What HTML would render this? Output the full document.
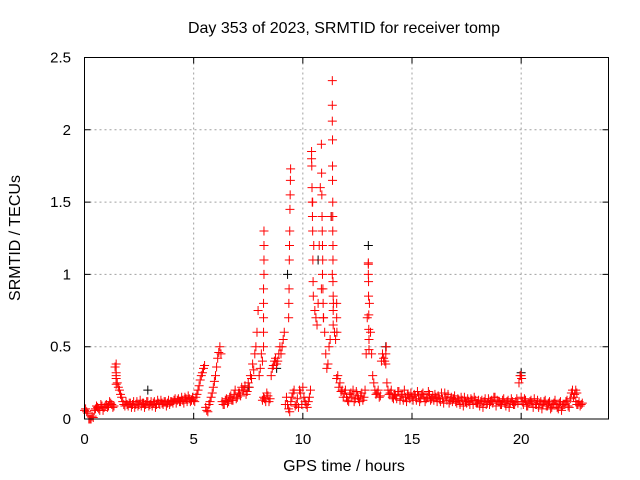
<!DOCTYPE html>
<html><head><meta charset="utf-8"><style>
body{margin:0;background:#fff}
svg{display:block;font-family:"Liberation Sans",sans-serif}
</style></head><body>
<svg width="640" height="480" viewBox="0 0 640 480">
<rect width="640" height="480" fill="#fff"/>
<g id="grid"></g>
<g id="series-black"></g>
<g id="series-red"></g>
<rect x="84.5" y="57.5" width="524" height="361.5" fill="none" stroke="#000"/>
<g id="ticks"></g>
<text x="344" y="33" text-anchor="middle" font-size="16">Day 353 of 2023, SRMTID for receiver tomp</text>
<text x="344" y="471" text-anchor="middle" font-size="16">GPS time / hours</text>
<text transform="translate(20,238) rotate(-90)" text-anchor="middle" font-size="16">SRMTID / TECUs</text>
</svg>
<script>
const xTicks=[0,5,10,15,20];
const yTicks=[0,0.5,1,1.5,2,2.5];
const yTickLabels=["0","0.5","1","1.5","2","2.5"];
const baseStart=0, baseStep=0.1, base2Start=0.05;
const baseValues=[.06,.05,0,0,.01,.07,.08,.06,.09,.08,
.1,.09,.11,.08,.36,.25,.2,.15,.1,.12,
.09,.11,.1,.08,.12,.1,.09,.11,.1,.12,
.1,.09,.12,.1,.11,.13,.1,.12,.11,.1,
.12,.13,.11,.14,.12,.13,.15,.12,.14,.13,
.13,.15,.2,.27,.32,.37,.06,.1,.15,.22,
.3,.42,.5,.12,.1,.14,.12,.16,.13,.2,
.15,.18,.22,.2,.17,.25,.3,.38,.45,.6,
.3,.45,.15,.12,.16,.14,.35,.4,.38,.45,
.45,.55,.1,.1,.05,.15,.2,.1,.08,.18,
.22,.12,.08,.15,1.8,1.2,.7,.8,1.6,1.0,
.6,.35,.5,1.4,.8,.55,.3,.25,.2,.18,
.15,.12,.18,.2,.14,.16,.12,.18,.15,.45,
1.0,.6,.3,.2,.18,.15,.4,.42,.38,.2,
.18,.15,.17,.14,.19,.16,.13,.15,.17,.14,
.15,.17,.13,.16,.14,.18,.12,.15,.17,.14,
.13,.15,.16,.12,.14,.18,.13,.11,.15,.14,
.12,.14,.1,.13,.15,.11,.12,.14,.1,.13,
.11,.09,.13,.12,.1,.14,.12,.11,.15,.13,
.12,.1,.14,.09,.13,.11,.12,.1,.14,.25,
.15,.1,.13,.09,.12,.11,.14,.1,.08,.12,
.1,.13,.09,.12,.08,.11,.1,.07,.12,.09,
.1,.13,.08,.18,.15,.12,.1,.09,.11];
const baseValues2=[.07,.04,0,.02,.06,.09,.07,.1,.06,.09,
.08,.12,.1,.09,.3,.22,.17,.12,.09,.1,
.11,.08,.12,.1,.09,.13,.11,.08,.12,.09,
.12,.11,.08,.13,.1,.11,.12,.09,.13,.12,
.11,.14,.13,.12,.15,.11,.14,.16,.12,.15,
.12,.17,.23,.3,.35,.08,.05,.12,.18,.26,
.36,.46,.45,.1,.13,.11,.15,.13,.17,.14,
.18,.16,.2,.23,.19,.22,.28,.34,.5,.75,
.35,.13,.14,.18,.12,.3,.37,.42,.4,.5,
.5,.6,.15,.07,.12,.18,.09,.14,.2,.1,
.15,.1,.12,.2,1.5,.75,.65,1.2,.9,.7,
.45,.38,.55,1.0,.6,.28,.22,.19,.15,.2,
.13,.17,.15,.12,.19,.14,.16,.13,.2,.7,
.8,.45,.25,.17,.2,.16,.45,.4,.25,.17,
.2,.14,.16,.19,.13,.17,.2,.12,.16,.18,
.13,.16,.19,.12,.17,.15,.14,.19,.13,.16,
.17,.12,.14,.18,.11,.15,.17,.13,.12,.16,
.11,.13,.15,.09,.12,.14,.1,.13,.15,.11,
.13,.12,.08,.14,.11,.1,.13,.15,.09,.12,
.1,.13,.11,.12,.08,.14,.1,.12,.11,.3,
.12,.14,.09,.11,.13,.08,.1,.13,.11,.07,
.12,.09,.11,.07,.1,.13,.08,.11,.06,.1,
.12,.09,.14,.2,.17,.1,.12,.1];
const spikeHours=[1.45,1.45,1.45,1.45,
8.15,8.2,8.2,8.2,8.2,8.2,8.22,8.22,8.22,8.22,
9.35,9.36,9.37,9.38,9.39,9.4,9.41,9.42,9.43,9.44,
10.4,10.41,10.42,10.43,10.44,10.45,10.46,10.47,10.48,
10.85,10.86,10.87,10.88,10.89,10.9,10.91,10.92,10.93,10.94,
11.35,11.35,11.35,11.36,11.36,11.36,11.37,11.37,11.37,11.38,11.38,11.38,11.39,11.39,11.39,
11.55,11.55,11.56,
13.0,13.0,13.01,13.01,13.02,13.02,13.03,13.03,
13.8,13.82,20.0,20.02,22.5,22.55];
const spikeValues=[.38,.32,.28,.24,
.4,.5,.6,.7,.8,.9,1.0,1.1,1.2,1.3,
.7,.8,.9,1.1,1.2,1.3,1.45,1.55,1.65,1.73,
1.85,1.75,1.6,1.5,1.4,1.3,1.1,.95,.85,
1.9,1.7,1.55,1.4,1.3,1.2,1.1,.9,.8,.7,
2.34,2.17,2.06,1.93,1.75,1.65,1.5,1.4,1.3,1.2,1.1,.95,.85,.75,.65,
.8,.7,.6,
1.08,1.07,.95,.85,.72,.62,.55,.48,
.45,.5,.3,.28,.2,.18];
const blackHours=[2.9,7.5,8.8,9.3,10.7,11.3,13.0,13.8,20.0];
const blackValues=[.2,.22,.35,1.0,1.1,1.4,1.2,.5,.32];

const X0=84.5,X1=608.5,Y0=419,Y1=57.5;
const xs=h=>X0+(h/24)*(X1-X0);
const ys=v=>Y0-(v/2.5)*(Y0-Y1);
const NS="http://www.w3.org/2000/svg";
function plus(g,h,v,col){
  const x=xs(h),y=ys(v);
  const p=document.createElementNS(NS,'path');
  p.setAttribute('d',`M${x-4.5},${y}H${x+4.5}M${x},${y-4.5}V${y+4.5}`);
  p.setAttribute('stroke',col);p.setAttribute('fill','none');
  
  
  g.appendChild(p);
}
const grid=document.getElementById('grid'),ticks=document.getElementById('ticks');
xTicks.forEach(t=>{
  const x=xs(t);
  if(t>0){const l=document.createElementNS(NS,'line');
  l.setAttribute('x1',x);l.setAttribute('x2',x);l.setAttribute('y1',Y1);l.setAttribute('y2',Y0);
  l.setAttribute('stroke','#a0a0a0');l.setAttribute('stroke-dasharray','2,3');
  
  
  grid.appendChild(l);}
  const tk=document.createElementNS(NS,'path');
  tk.setAttribute('d',`M${x},${Y0}v-6M${x},${Y1}v6`);tk.setAttribute('stroke','#000');
  
  
  ticks.appendChild(tk);
  const tx=document.createElementNS(NS,'text');
  tx.setAttribute('x',x);tx.setAttribute('y',444);tx.setAttribute('text-anchor','middle');tx.setAttribute('font-size','15');
  tx.textContent=String(t);
  
  
  ticks.appendChild(tx);
});
yTicks.forEach((t,i)=>{
  const y=ys(t);
  if(t>0&&t<2.5){const l=document.createElementNS(NS,'line');
  l.setAttribute('x1',X0);l.setAttribute('x2',X1);l.setAttribute('y1',y);l.setAttribute('y2',y);
  l.setAttribute('stroke','#a0a0a0');l.setAttribute('stroke-dasharray','2,3');
  
  
  grid.appendChild(l);}
  const tk=document.createElementNS(NS,'path');
  tk.setAttribute('d',`M${X0},${y}h6M${X1},${y}h-6`);tk.setAttribute('stroke','#000');
  
  
  ticks.appendChild(tk);
  const tx=document.createElementNS(NS,'text');
  tx.setAttribute('x',71);tx.setAttribute('y',y+5);tx.setAttribute('text-anchor','end');tx.setAttribute('font-size','15');
  tx.textContent=yTickLabels[i];
  
  
  ticks.appendChild(tx);
});
const gb=document.getElementById('series-black'),gr=document.getElementById('series-red');
blackHours.forEach((h,i)=>plus(gb,h,blackValues[i],'#000'));
baseValues.forEach((v,i)=>plus(gr,baseStart+i*baseStep,v,'#ff0000'));
baseValues2.forEach((v,i)=>plus(gr,base2Start+i*baseStep,v,'#ff0000'));
spikeHours.forEach((h,i)=>plus(gr,h,spikeValues[i],'#ff0000'));
</script>
</body></html>
